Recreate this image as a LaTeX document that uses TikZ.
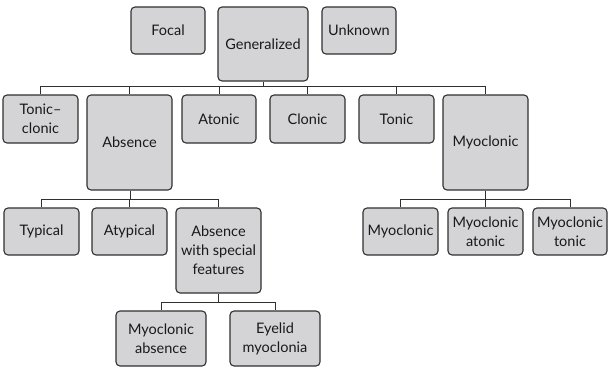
\documentclass[tikz,border=0pt]{standalone}
\usepackage{fontspec}
\setmainfont{Lato}
\usetikzlibrary{positioning}
\definecolor{boxfill}{HTML}{D4D4D6}
\definecolor{boxline}{HTML}{303030}
\tikzset{
  box/.style={draw=boxline, fill=boxfill, line width=1.1pt, rounded corners=4pt,
    align=center, inner sep=0pt, font=\fontsize{14.5}{19}\selectfont, text=black!90},
  conn/.style={draw=boxline, line width=1pt}
}
\begin{document}
\begin{tikzpicture}[x=1pt,y=-1pt]
\useasboundingbox (0,0) rectangle (608,367);
% top level
\node[box, minimum width=74, minimum height=47] (focal) at (168,30.5) {Focal};
\node[box, minimum width=90, minimum height=74] (gen) at (263,44) {Generalized};
\node[box, minimum width=74, minimum height=47] (unknown) at (359,30.5) {Unknown};
% second level
\node[box, minimum width=75, minimum height=48] (tc) at (40.5,119) {Tonic–\\clonic};
\node[box, minimum width=85, minimum height=95] (absence) at (129.5,142.5) {Absence};
\node[box, minimum width=74, minimum height=48] (atonic) at (219,119) {Atonic};
\node[box, minimum width=75, minimum height=48] (clonic) at (307.5,119) {Clonic};
\node[box, minimum width=75, minimum height=48] (tonic) at (396.5,119) {Tonic};
\node[box, minimum width=85, minimum height=95] (myo) at (485.5,142.5) {Myoclonic};
% third level
\node[box, minimum width=75, minimum height=47] (typical) at (41.5,231.5) {Typical};
\node[box, minimum width=75, minimum height=47] (atypical) at (129.5,231.5) {Atypical};
\node[box, minimum width=85, minimum height=85] (aswf) at (218.5,250.5) {Absence\\with special\\features};
\node[box, minimum width=75, minimum height=47] (myoA) at (400.5,231.5) {Myoclonic};
\node[box, minimum width=75, minimum height=47] (myoB) at (485.5,231.5) {Myoclonic\\atonic};
\node[box, minimum width=74, minimum height=47] (myoC) at (570,231.5) {Myoclonic\\tonic};
% fourth level
\node[box, minimum width=90, minimum height=55] (myoabs) at (161,338.5) {Myoclonic\\absence};
\node[box, minimum width=90, minimum height=55] (eyelid) at (275,338.5) {Eyelid\\myoclonia};
% buses
\coordinate (busG) at (263,86);
\coordinate (busA) at (130,199);
\coordinate (busM) at (485.5,199);
\coordinate (busS) at (218.5,302);
% connectors
\draw[conn] (gen.south) -- (busG);
\foreach \c in {tc,absence,atonic,clonic,tonic,myo} \draw[conn] (busG) -| (\c.north);
\draw[conn] (absence.south -| busA) -- (busA);
\foreach \c in {typical,atypical,aswf} \draw[conn] (busA) -| (\c.north);
\draw[conn] (myo.south) -- (busM);
\foreach \c in {myoA,myoB,myoC} \draw[conn] (busM) -| (\c.north);
\draw[conn] (aswf.south) -- (busS);
\foreach \c in {myoabs,eyelid} \draw[conn] (busS) -| (\c.north);
\end{tikzpicture}
\end{document}
